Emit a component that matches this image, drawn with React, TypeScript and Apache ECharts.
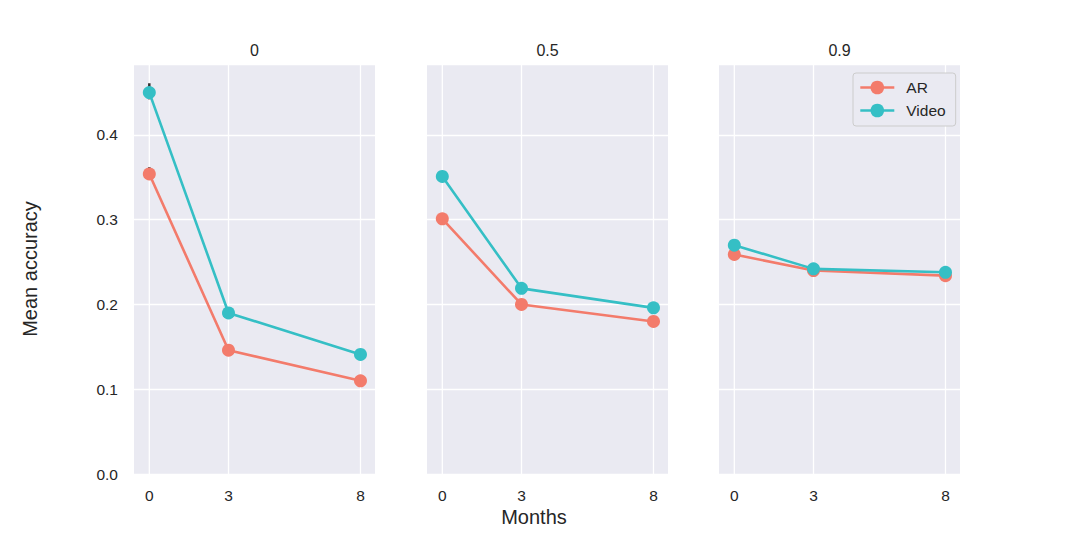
import { useEffect, useRef } from "react";
import * as echarts from "echarts";

// facet titles and x values
const panels = ["0", "0.5", "0.9"];
const months = [0, 3, 8];

// mean accuracy per panel
const arValues = [
  [0.354, 0.146, 0.11],
  [0.301, 0.2, 0.18],
  [0.259, 0.24, 0.234],
];
const videoValues = [
  [0.45, 0.19, 0.141],
  [0.351, 0.219, 0.196],
  [0.27, 0.242, 0.238],
];

// error bars that peek out from behind the markers (month, low, high)
const arErr = [[0, 0.347, 0.362]];
const videoErr = [[0, 0.442, 0.461]];

const AR_COLOR = "#F37B6B";
const VIDEO_COLOR = "#35BFC5";
const BG = "#EAEAF2";
const TEXT = "#262626";
const FONT = "Liberation Sans, Arial, sans-serif";

const gridLefts = [134, 427, 719];
const GRID_W = 241;
const Y_MAX = 0.4837;

function App() {
  const chartRef = useRef(null);

  useEffect(() => {
    document.body.style.margin = "0";
    const chart = echarts.init(chartRef.current, null, { renderer: "svg" });

    const grids = gridLefts.map((left) => ({
      left,
      top: 64,
      width: GRID_W,
      height: 410,
      show: true,
      backgroundColor: BG,
      borderWidth: 0,
    }));

    const xAxes = panels.map((_, i) => ({
      type: "value",
      gridIndex: i,
      min: -0.58,
      max: 8.55,
      axisLine: { show: false },
      axisTick: { show: false },
      splitLine: { show: false },
      axisLabel: {
        customValues: months,
        color: TEXT,
        fontSize: 15.5,
        fontFamily: FONT,
        margin: 13,
      },
    }));

    const yAxes = panels.map((_, i) => ({
      type: "value",
      gridIndex: i,
      min: 0,
      max: Y_MAX,
      interval: 0.1,
      axisLine: { show: false },
      axisTick: { show: false },
      splitLine: { show: true, lineStyle: { color: "#ffffff", width: 1.3 } },
      axisLabel: {
        show: i === 0,
        formatter: (v: number) =>
          Math.abs(v * 10 - Math.round(v * 10)) < 1e-6 ? v.toFixed(1) : "",
        color: TEXT,
        fontSize: 15.5,
        fontFamily: FONT,
        margin: 16,
      },
    }));

    const series: any[] = [];
    panels.forEach((_, i) => {
      // vertical grid lines at the month positions
      series.push({
        type: "custom",
        xAxisIndex: i,
        yAxisIndex: i,
        z: 0,
        silent: true,
        data: months.map((m) => [m]),
        renderItem: (_p: any, api: any) => {
          const a = api.coord([api.value(0), 0]);
          const b = api.coord([api.value(0), Y_MAX]);
          return {
            type: "line",
            shape: { x1: a[0], y1: a[1], x2: b[0], y2: b[1] },
            style: { stroke: "#ffffff", lineWidth: 1.3 },
          };
        },
      });
      if (i === 0) {
        [arErr, videoErr].forEach((err) => {
          series.push({
            type: "custom",
            xAxisIndex: i,
            yAxisIndex: i,
            z: 1,
            silent: true,
            data: err,
            renderItem: (_p: any, api: any) => {
              const a = api.coord([api.value(0), api.value(1)]);
              const b = api.coord([api.value(0), api.value(2)]);
              return {
                type: "line",
                shape: { x1: a[0], y1: a[1], x2: b[0], y2: b[1] },
                style: { stroke: "#333333", lineWidth: 2.5 },
              };
            },
          });
        });
      }
      series.push({
        name: "AR",
        type: "line",
        xAxisIndex: i,
        yAxisIndex: i,
        z: 3,
        data: months.map((m, j) => [m, arValues[i][j]]),
        symbol: "circle",
        symbolSize: 13,
        lineStyle: { color: AR_COLOR, width: 2.6 },
        itemStyle: { color: AR_COLOR },
      });
      series.push({
        name: "Video",
        type: "line",
        xAxisIndex: i,
        yAxisIndex: i,
        z: 3,
        data: months.map((m, j) => [m, videoValues[i][j]]),
        symbol: "circle",
        symbolSize: 13,
        lineStyle: { color: VIDEO_COLOR, width: 2.6 },
        itemStyle: { color: VIDEO_COLOR },
      });
    });

    const titles = panels.map((p, i) => ({
      type: "text",
      x: gridLefts[i] + GRID_W / 2,
      y: 50,
      style: {
        text: p,
        align: "center",
        verticalAlign: "middle",
        fill: TEXT,
        fontSize: 16,
        fontFamily: FONT,
      },
    }));

    const option = {
      animation: false,
      backgroundColor: "#ffffff",
      grid: grids,
      xAxis: xAxes,
      yAxis: yAxes,
      legend: {
        data: ["AR", "Video"],
        orient: "vertical",
        left: 853,
        top: 73,
        width: 100,
        padding: [6, 10, 7, 6],
        itemWidth: 34,
        itemHeight: 17,
        itemGap: 6,
        backgroundColor: BG,
        borderColor: "#CCCCCC",
        borderWidth: 1,
        borderRadius: 3,
        lineStyle: { width: 2.6 },
        textStyle: {
          color: TEXT,
          fontSize: 15.5,
          fontFamily: FONT,
          padding: [0, 0, 0, 7],
          lineHeight: 17,
        },
      },
      graphic: [
        ...titles,
        {
          type: "text",
          x: 534,
          y: 517,
          style: {
            text: "Months",
            align: "center",
            verticalAlign: "middle",
            fill: TEXT,
            fontSize: 20,
            fontFamily: FONT,
          },
        },
        {
          type: "text",
          x: 30,
          y: 269,
          rotation: Math.PI / 2,
          style: {
            text: "Mean accuracy",
            align: "center",
            verticalAlign: "middle",
            fill: TEXT,
            fontSize: 20,
            fontFamily: FONT,
          },
        },
      ],
      series,
    };

    chart.setOption(option);
    return () => {
      chart.dispose();
    };
  }, []);

  return <div ref={chartRef} style={{ width: "1068px", height: "534px" }}></div>;
}

export default App;
